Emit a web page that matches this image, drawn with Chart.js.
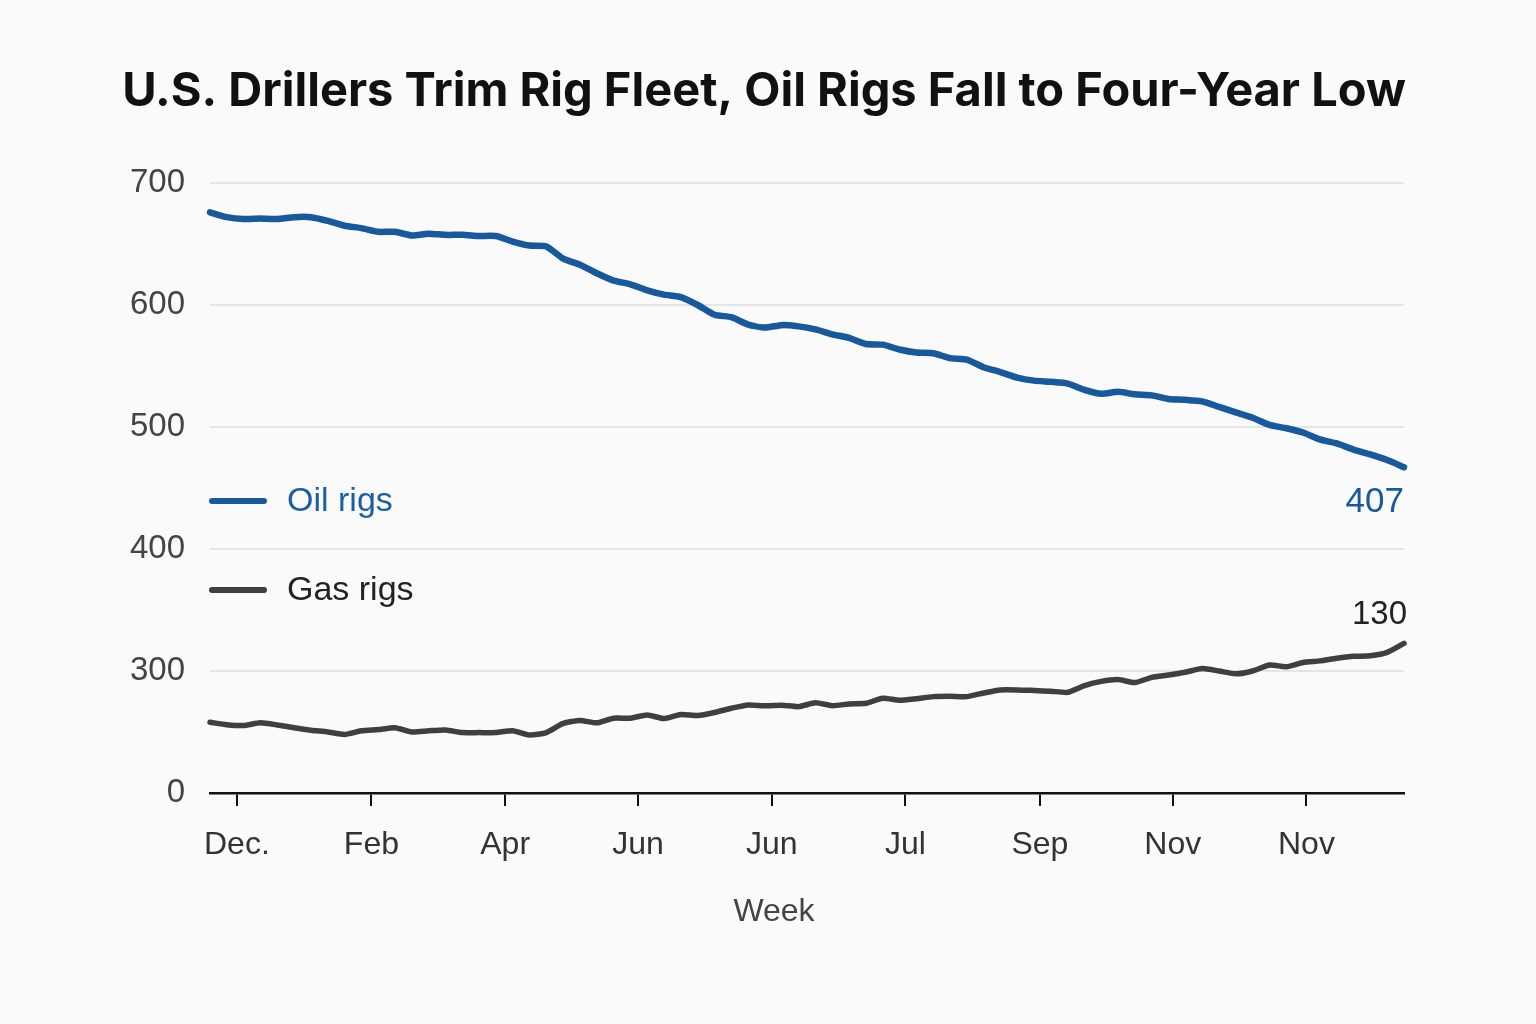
<!DOCTYPE html>
<html>
<head>
<meta charset="utf-8">
<title>U.S. rig count</title>
<script src="https://cdn.jsdelivr.net/npm/chart.js@4/dist/chart.umd.min.js"></script>
<style>
  html, body { margin: 0; padding: 0; background: #fafafa; }
  #wrap { width: 1536px; height: 1024px; }
</style>
</head>
<body>
<div id="wrap"><canvas id="rigChart"></canvas></div>
<script>
// weekly rig counts as plotted (y axis is broken: bottom "0" sits where 200 would be)
const oilRigs = [
  676, 672, 670.5, 671, 670.5, 672, 672, 669, 665, 663,
  660, 660, 657, 658.5, 657.5, 657.5, 656.6, 656.5, 652, 648.7,
  648, 638, 633, 626, 620, 617, 612, 608.5, 606.5, 600,
  592, 590, 584, 581.5, 583.5, 582.5, 580, 576, 573, 568,
  567.5, 563.5, 561, 560.5, 556.5, 555.3, 549, 545, 540.5, 538,
  537, 535.6, 530.5, 527.2, 528.8, 526.8, 525.9, 523, 522.3, 521,
  516.5, 512, 507.6, 501.7, 499, 495.5, 489.8, 486.5, 481.5, 477.5,
  472.9, 467
];
const gasRigs = [
  258, 256, 255.3, 257.5, 255.8, 253.5, 251.5, 250, 248, 251,
  252, 253.5, 250, 251, 251.7, 249.5, 249.5, 249.5, 251, 247.5,
  249.5, 257, 259.5, 257.5, 261.3, 261.3, 264, 261, 264.3, 263.5,
  266, 269.5, 272.2, 271.5, 272, 270.8, 274, 271.6, 273, 273.5,
  277.7, 276, 277.3, 279, 279.3, 279, 282, 284.5, 284.5, 284,
  283.5, 282.5, 288, 291.5, 293, 290.5, 294.8, 296.7, 299, 302,
  300, 297.7, 300, 304.9, 303.5, 307, 308.3, 310.5, 312, 312.5,
  315.3, 322.7
];
const weeks = oilRigs.map((v, i) => i);

const monthTickWeeks = [1.6, 9.6, 17.55, 25.45, 33.4, 41.35, 49.35, 57.25, 65.2];
const monthTickLabels = ["Dec.", "Feb", "Apr", "Jun", "Jun", "Jul", "Sep", "Nov", "Nov"];

const yTickValues = [200, 300, 400, 500, 600, 700];
const yTickLabels = ["0", "300", "400", "500", "600", "700"];

const seriesNames = ["Oil rigs", "Gas rigs"];
const latestCounts = [407, 130];

const OIL = "#17599d";
const GAS = "#3f3f3f";
const FONT = "'Liberation Sans', Arial, sans-serif";

// title, axis name, in-plot legend and the latest-count labels
const overlay = {
  id: "overlay",
  afterDraw(chart) {
    const ctx = chart.ctx;
    const xs = chart.scales.x, ys = chart.scales.y;
    ctx.save();

    ctx.fillStyle = "#111";
    ctx.font = "bold 47px Inter, 'Liberation Sans', sans-serif";
    ctx.textAlign = "center";
    ctx.textBaseline = "middle";
    ctx.fillText("U.S. Drillers Trim Rig Fleet, Oil Rigs Fall to Four-Year Low", 764, 92);

    ctx.fillStyle = "#444";
    ctx.font = "32px " + FONT;
    ctx.fillText("Week", 774, 912);

    // legend rows
    const rows = [{ y: 501, color: OIL, text: "#1a5fa3" }, { y: 590, color: GAS, text: "#222" }];
    ctx.lineCap = "round";
    ctx.lineWidth = 6;
    ctx.font = "34px " + FONT;
    ctx.textAlign = "left";
    rows.forEach((r, i) => {
      ctx.strokeStyle = r.color;
      ctx.beginPath();
      ctx.moveTo(212, r.y);
      ctx.lineTo(264, r.y);
      ctx.stroke();
      ctx.fillStyle = r.text;
      ctx.fillText(seriesNames[i], 287, r.y + 1);
    });

    // latest values at the line ends
    const last = weeks.length - 1;
    ctx.textAlign = "right";
    ctx.fillStyle = OIL;
    ctx.font = "35px " + FONT;
    ctx.fillText(String(latestCounts[0]), xs.getPixelForValue(last), ys.getPixelForValue(oilRigs[last]) + 35);
    ctx.fillStyle = "#222";
    ctx.font = "33px " + FONT;
    ctx.fillText(String(latestCounts[1]), xs.getPixelForValue(last) + 3, ys.getPixelForValue(gasRigs[last]) - 28);

    ctx.restore();
  }
};

new Chart(document.getElementById("rigChart"), {
  type: "line",
  data: {
    datasets: [
      {
        label: seriesNames[0],
        data: weeks.map((w, i) => ({ x: w, y: oilRigs[i] })),
        borderColor: OIL,
        borderWidth: 6.5,
        tension: 0.2,
        pointRadius: 0,
        borderCapStyle: "round",
        borderJoinStyle: "round",
        clip: false
      },
      {
        label: seriesNames[1],
        data: weeks.map((w, i) => ({ x: w, y: gasRigs[i] })),
        borderColor: GAS,
        borderWidth: 5.5,
        tension: 0.2,
        pointRadius: 0,
        borderCapStyle: "round",
        borderJoinStyle: "round",
        clip: false
      }
    ]
  },
  options: {
    responsive: true,
    maintainAspectRatio: false,
    animation: false,
    layout: { padding: { top: 183, right: 132, left: 0, bottom: 0 } },
    plugins: {
      legend: { display: false },
      title: { display: false },
      tooltip: { enabled: false }
    },
    scales: {
      x: {
        type: "linear",
        min: 0,
        max: weeks.length - 1,
        afterBuildTicks: (scale) => { scale.ticks = monthTickWeeks.map(v => ({ value: v })); },
        afterFit: (scale) => { scale.height = 231; },
        ticks: {
          callback: (v) => monthTickLabels[monthTickWeeks.indexOf(v)],
          color: "#333",
          font: { family: FONT, size: 32 },
          padding: 20,
          maxRotation: 0,
          autoSkip: false
        },
        grid: {
          drawOnChartArea: false,
          drawTicks: true,
          tickLength: 13,
          color: "#111",
          lineWidth: 2
        },
        border: { display: true, color: "#111", width: 2.5 }
      },
      y: {
        min: 200,
        max: 700,
        afterBuildTicks: (scale) => { scale.ticks = yTickValues.map(v => ({ value: v })); },
        afterFit: (scale) => { scale.width = 210; },
        ticks: {
          callback: (v) => yTickLabels[yTickValues.indexOf(v)],
          color: "#444",
          font: { family: FONT, size: 33 },
          padding: 25
        },
        grid: {
          drawTicks: false,
          color: (c) => (c.tick && c.tick.value === 200 ? "rgba(0,0,0,0)" : "#e5e5e5"),
          lineWidth: 2
        },
        border: { display: false }
      }
    }
  },
  plugins: [overlay]
});
</script>
</body>
</html>
